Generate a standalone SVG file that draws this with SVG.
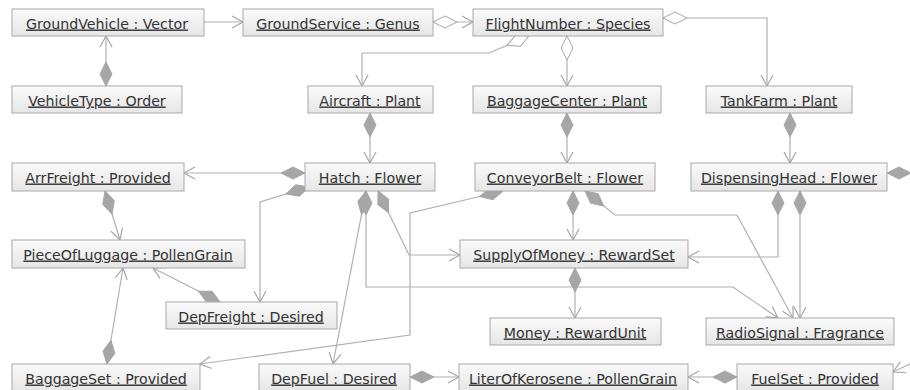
<svg xmlns="http://www.w3.org/2000/svg" width="910" height="390" viewBox="0 0 910 390">
<defs>
<linearGradient id="g" x1="0" y1="0" x2="0" y2="1">
<stop offset="0" stop-color="#fafafa"/>
<stop offset="1" stop-color="#e6e6e6"/>
</linearGradient>
<marker id="fd" markerUnits="userSpaceOnUse" viewBox="-1 -8 27 16" markerWidth="27" markerHeight="16" refX="0" refY="0" orient="auto">
<path d="M0,0 L12,-6 L24,0 L12,6 Z" fill="#a6a6a6" stroke="#a6a6a6" stroke-width="1"/>
</marker>
<marker id="hd" markerUnits="userSpaceOnUse" viewBox="-1 -8 27 16" markerWidth="27" markerHeight="16" refX="0" refY="0" orient="auto">
<path d="M0,0 L12,-6 L24,0 L12,6 Z" fill="#ffffff" stroke="#a6a6a6" stroke-width="1"/>
</marker>
<marker id="ar" markerUnits="userSpaceOnUse" viewBox="-13 -8 15 16" markerWidth="15" markerHeight="16" refX="0" refY="0" orient="auto">
<path d="M-11,-6 L0,0 L-11,6" fill="none" stroke="#a6a6a6" stroke-width="1.2"/>
</marker>
</defs>
<style>
.n rect{fill:url(#g);stroke:#a8a8a8;stroke-width:1}
.n text{font-family:"DejaVu Sans","Liberation Sans",sans-serif;font-size:14.2px;fill:#333;text-anchor:middle;text-decoration:underline}
#edges path{fill:none;stroke:#b0b0b0;stroke-width:1.2}
.f{marker-start:url(#fd);marker-end:url(#ar)}
.h{marker-start:url(#hd);marker-end:url(#ar)}
.a{marker-end:url(#ar)}
.d{marker-start:url(#fd)}
</style>
<rect width="910" height="390" fill="#ffffff"/>
<g id="edges">
<path class="a" d="M204,22 L243,22"/>
<path class="f" d="M106,86 L106,36"/>
<path class="h" d="M433,22 L473,22"/>
<path class="h" d="M529,36 L489,53 L362,53 L362,86"/>
<path class="h" d="M567,36 L567,86"/>
<path class="h" d="M663,18 L767,18 L767,86"/>
<path class="f" d="M370,113 L370,163"/>
<path class="f" d="M567,113 L567,163"/>
<path class="f" d="M790,113 L790,163"/>
<path class="f" d="M305,173 L184,173"/>
<path class="f" d="M309,187 L260,202 L260,302"/>
<path class="f" d="M105,191 L120,240"/>
<path class="f" d="M107,364 L123,268"/>
<path class="f" d="M220,302 L153,268"/>
<path class="f" d="M503,191 L410,213 L410,335 L200,364"/>
<path class="f" d="M378,191 L409,255 L460,255"/>
<path class="f" d="M366,191 L366,287 L733,287 L778,318"/>
<path class="f" d="M366,191 L333,364"/>
<path class="f" d="M573,191 L573,240"/>
<path class="f" d="M585,191 L615,215 L737,215 L793,318"/>
<path class="f" d="M778,191 L778,257 L688,257"/>
<path class="f" d="M800,191 L800,318"/>
<path class="d" d="M887,173 L915,173"/>
<path class="a" d="M914,362 L893,372"/>
<path class="f" d="M410,377 L459,377"/>
<path class="f" d="M737,377 L688,377"/>
<path class="f" d="M575,268 L575,318"/>
</g>
<g id="GroundVehicle" class="n"><rect x="12" y="9" width="192" height="27"/><text x="107" y="28.5">GroundVehicle : Vector</text></g>
<g id="GroundService" class="n"><rect x="243" y="9" width="190" height="27"/><text x="338" y="28.5">GroundService : Genus</text></g>
<g id="FlightNumber" class="n"><rect x="473" y="9" width="190" height="27"/><text x="568" y="28.5">FlightNumber : Species</text></g>
<g id="VehicleType" class="n"><rect x="12" y="86" width="170" height="27"/><text x="97" y="105.5">VehicleType : Order</text></g>
<g id="Aircraft" class="n"><rect x="308" y="86" width="125" height="27"/><text x="370" y="105.5">Aircraft : Plant</text></g>
<g id="BaggageCenter" class="n"><rect x="473" y="86" width="188" height="27"/><text x="567" y="105.5">BaggageCenter : Plant</text></g>
<g id="TankFarm" class="n"><rect x="706" y="86" width="146" height="27"/><text x="779" y="105.5">TankFarm : Plant</text></g>
<g id="ArrFreight" class="n"><rect x="12" y="163" width="172" height="28"/><text x="98" y="182.5">ArrFreight : Provided</text></g>
<g id="Hatch" class="n"><rect x="305" y="163" width="130" height="28"/><text x="370" y="182.5">Hatch : Flower</text></g>
<g id="ConveyorBelt" class="n"><rect x="475" y="163" width="180" height="28"/><text x="565" y="182.5">ConveyorBelt : Flower</text></g>
<g id="DispensingHead" class="n"><rect x="691" y="163" width="196" height="28"/><text x="789" y="182.5">DispensingHead : Flower</text></g>
<g id="PieceOfLuggage" class="n"><rect x="12" y="240" width="233" height="28"/><text x="128" y="259.5">PieceOfLuggage : PollenGrain</text></g>
<g id="SupplyOfMoney" class="n"><rect x="460" y="240" width="228" height="28"/><text x="574" y="259.5">SupplyOfMoney : RewardSet</text></g>
<g id="DepFreight" class="n"><rect x="166" y="302" width="171" height="27"/><text x="251" y="321.5">DepFreight : Desired</text></g>
<g id="Money" class="n"><rect x="490" y="318" width="171" height="27"/><text x="575" y="337.5">Money : RewardUnit</text></g>
<g id="RadioSignal" class="n"><rect x="706" y="318" width="188" height="27"/><text x="800" y="337.5">RadioSignal : Fragrance</text></g>
<g id="BaggageSet" class="n"><rect x="12" y="364" width="188" height="27"/><text x="106" y="383.5">BaggageSet : Provided</text></g>
<g id="DepFuel" class="n"><rect x="259" y="364" width="151" height="27"/><text x="334" y="383.5">DepFuel : Desired</text></g>
<g id="LiterOfKerosene" class="n"><rect x="459" y="364" width="229" height="27"/><text x="573" y="383.5">LiterOfKerosene : PollenGrain</text></g>
<g id="FuelSet" class="n"><rect x="737" y="364" width="156" height="27"/><text x="815" y="383.5">FuelSet : Provided</text></g>
</svg>
